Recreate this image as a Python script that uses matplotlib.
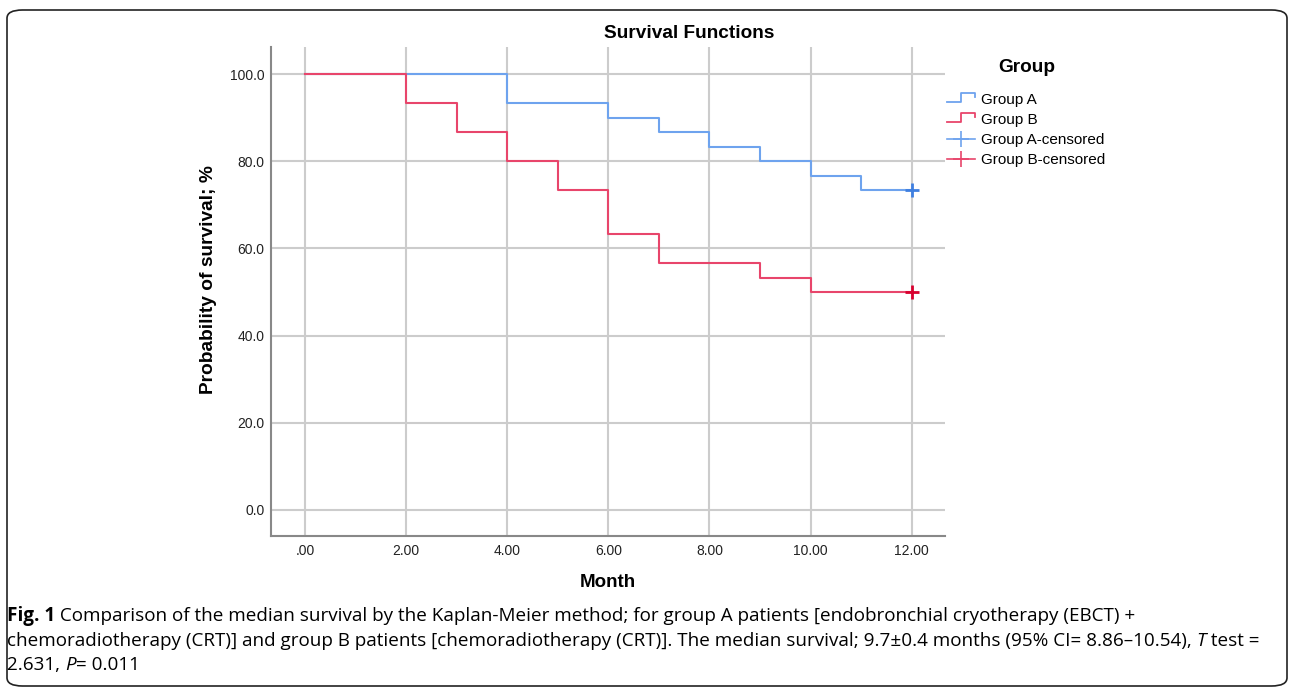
import matplotlib
matplotlib.use('Agg')
import matplotlib.pyplot as plt
from matplotlib.lines import Line2D
from matplotlib.legend_handler import HandlerLine2D
from matplotlib.patches import FancyBboxPatch

# Kaplan-Meier step data (month, survival %)
months_a = [0, 4, 6, 7, 8, 9, 10, 11, 12]
surv_a = [100.0, 93.3, 90.0, 86.7, 83.3, 80.0, 76.7, 73.3, 73.3]
months_b = [0, 2, 3, 4, 5, 6, 7, 9, 10, 12]
surv_b = [100.0, 93.3, 86.7, 80.0, 73.3, 63.3, 56.7, 53.3, 50.0, 50.0]
censor_a = (12, 73.3)
censor_b = (12, 50.0)

xticks = [0, 2, 4, 6, 8, 10, 12]
xlabels = ['.00', '2.00', '4.00', '6.00', '8.00', '10.00', '12.00']
yticks = [0, 20, 40, 60, 80, 100]
ylabels = ['0.0', '20.0', '40.0', '60.0', '80.0', '100.0']
legend_labels = ['Group A', 'Group B', 'Group A-censored', 'Group B-censored']

BLUE = '#6ea3ee'
RED = '#e8456b'
BLUE_DARK = '#3f7fe0'
RED_DARK = '#d8002e'

# caption runs: (text, weight, style)
caption_lines = [
    [("Fig. 1", 'bold', 'normal'),
     (" Comparison of the median survival by the Kaplan-Meier method; for group A patients "
      "[endobronchial cryotherapy (EBCT) +", 'normal', 'normal')],
    [("chemoradiotherapy (CRT)] and group B patients [chemoradiotherapy (CRT)]. The median survival; "
      "9.7\u00b10.4 months (95% CI= 8.86\u201310.54), ", 'normal', 'normal'),
     ("T", 'normal', 'italic'), (" test =", 'normal', 'normal')],
    [("2.631, ", 'normal', 'normal'), ("P", 'normal', 'italic'), ("= 0.011", 'normal', 'normal')],
]


class StepHandler(HandlerLine2D):
    # small SPSS-style step glyph for the legend
    def create_artists(self, legend, orig_handle, xdescent, ydescent, width, height, fontsize, trans):
        c = height / 2 - ydescent
        x0 = -xdescent
        xs = [x0, x0 + width * 0.5, x0 + width * 0.5, x0 + width, x0 + width]
        ys = [c - 2.6, c - 2.6, c + 3.8, c + 3.8, c + 1.4]
        ln = Line2D(xs, ys, color=orig_handle.get_color(), linewidth=orig_handle.get_linewidth())
        ln.set_transform(trans)
        return [ln]


plt.rcParams['font.family'] = ['Liberation Sans', 'DejaVu Sans']

fig = plt.figure(figsize=(12.92, 6.87), dpi=100)
ax = fig.add_axes([271 / 1292, 1 - 536 / 687, 674 / 1292, 489 / 687])

ax.step(months_a, surv_a, where='post', color=BLUE, linewidth=1.5, zorder=3)
ax.step(months_b, surv_b, where='post', color=RED, linewidth=1.5, zorder=3)
ax.plot([censor_a[0]], [censor_a[1]], marker='+', markersize=10, mew=2, color=BLUE_DARK,
        linestyle='none', zorder=4)
ax.plot([censor_b[0]], [censor_b[1]], marker='+', markersize=10, mew=2, color=RED_DARK,
        linestyle='none', zorder=4)

ax.set_xlim(-0.67, 12.66)
ax.set_ylim(-6, 106.2)
ax.set_xticks(xticks)
ax.set_xticklabels(xlabels)
ax.set_yticks(yticks)
ax.set_yticklabels(ylabels)
ax.tick_params(axis='both', length=0, labelsize=10, colors='#222222')
ax.tick_params(axis='y', pad=4.5)
ax.tick_params(axis='x', pad=6)
ax.grid(True, color='#cccccc', linewidth=1.5)
ax.set_axisbelow(True)
for s in ['top', 'right']:
    ax.spines[s].set_visible(False)
for s in ['left', 'bottom']:
    ax.spines[s].set_color('#888888')
    ax.spines[s].set_linewidth(1.5)

ax.set_xlabel('Month', fontsize=13.5, fontweight='bold')
ax.xaxis.set_label_coords(0.5, -38 / 489)
ax.set_ylabel('Probability of survival; %', fontsize=13.8, fontweight='bold')
ax.yaxis.set_label_coords(-54 / 674, (536 - 280) / 489)
fig.text(689 / 1292, 1 - 33 / 687, 'Survival Functions', ha='center', va='center',
         fontsize=13.7, fontweight='bold')

# legend: title drawn separately so its gap to the entries can be set
fig.text(1027 / 1292, 1 - 67 / 687, 'Group', ha='center', va='center',
         fontsize=13.7, fontweight='bold')
h_a = Line2D([], [], color=BLUE, linewidth=1.3)
h_b = Line2D([], [], color=RED, linewidth=1.3)
h_ca = Line2D([], [], color=BLUE, marker='+', markersize=11, mew=1.2, linewidth=1.2)
h_cb = Line2D([], [], color=RED, marker='+', markersize=11, mew=1.2, linewidth=1.2)
fig.legend([h_a, h_b, h_ca, h_cb], legend_labels,
           loc='upper left', bbox_to_anchor=(947 / 1292, 1 - 93 / 687),
           frameon=False, fontsize=11,
           handler_map={h_a: StepHandler(), h_b: StepHandler()},
           handlelength=1.83, handletextpad=0.4, labelspacing=0.4, borderpad=0, borderaxespad=0)

# caption, drawn run by run
fig.canvas.draw()
renderer = fig.canvas.get_renderer()
y = 1 - 616 / 687
for runs in caption_lines:
    x = 7 / 1292
    for text, weight, style in runs:
        t = fig.text(x, y, text, fontsize=13.6, fontweight=weight, fontstyle=style,
                     va='center', family=['Open Sans', 'DejaVu Sans'])
        x = t.get_window_extent(renderer).x1 / 1292
    y -= 24.5 / 687

# rounded border around the panel
border = FancyBboxPatch((7 / 1292, 1 / 687), 1280 / 1292, 676 / 687,
                        boxstyle='round,pad=0,rounding_size=0.012', transform=fig.transFigure,
                        facecolor='none', edgecolor='#222222', linewidth=1.2)
fig.patches.append(border)

fig.savefig('out.png', dpi=100, facecolor='white')
